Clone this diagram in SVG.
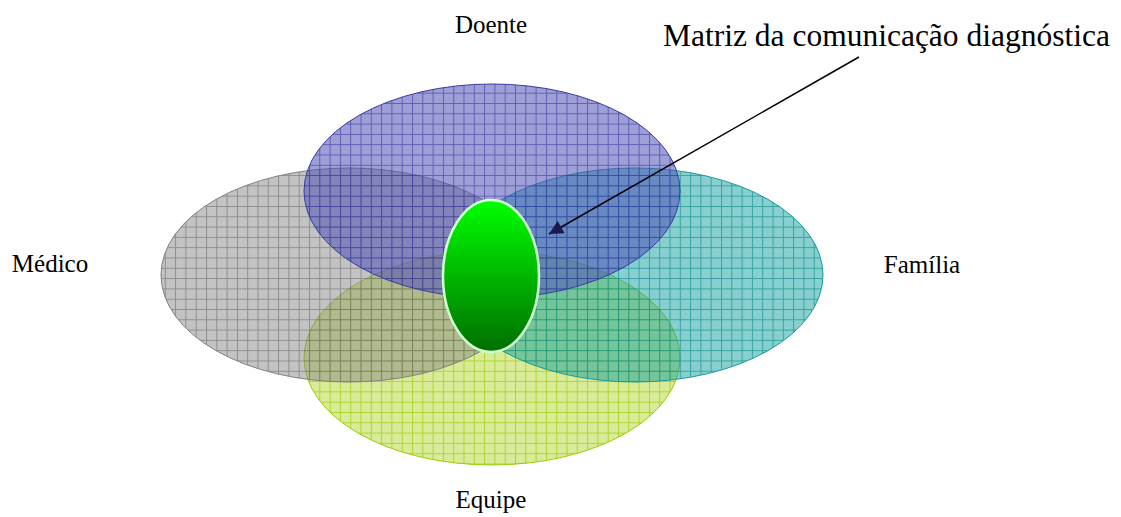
<svg xmlns="http://www.w3.org/2000/svg" width="1121" height="517" viewBox="0 0 1121 517">
<style>
  .lbl { font-family: "Liberation Serif", Tinos, "DejaVu Serif", serif; font-size: 25px; fill: #000; text-anchor: middle; }
  .title { font-family: "Liberation Serif", Tinos, "DejaVu Serif", serif; font-size: 31.5px; fill: #000; }
</style>
<defs>
  <pattern id="pBlue" width="10.3" height="10.3" patternUnits="userSpaceOnUse">
    <rect width="10.3" height="10.3" fill="#5050b8" fill-opacity="0.55"/>
    <path d="M0 0.5H10.3M0.5 0V10.3" stroke="#2a2a99" stroke-opacity="0.55" stroke-width="1" fill="none"/>
  </pattern>
  <pattern id="pGray" width="10.3" height="10.3" patternUnits="userSpaceOnUse">
    <rect width="10.3" height="10.3" fill="#888888" fill-opacity="0.5"/>
    <path d="M0 0.5H10.3M0.5 0V10.3" stroke="#5a5a5a" stroke-opacity="0.5" stroke-width="1" fill="none"/>
  </pattern>
  <pattern id="pTeal" width="10.3" height="10.3" patternUnits="userSpaceOnUse">
    <rect width="10.3" height="10.3" fill="#11a0a0" fill-opacity="0.5"/>
    <path d="M0 0.5H10.3M0.5 0V10.3" stroke="#008585" stroke-opacity="0.6" stroke-width="1" fill="none"/>
  </pattern>
  <pattern id="pYellow" width="10.3" height="10.3" patternUnits="userSpaceOnUse">
    <rect width="10.3" height="10.3" fill="#aad41a" fill-opacity="0.45"/>
    <path d="M0 0.5H10.3M0.5 0V10.3" stroke="#99cc00" stroke-opacity="0.7" stroke-width="1" fill="none"/>
  </pattern>
  <linearGradient id="gGreen" x1="0" y1="0" x2="0" y2="1">
    <stop offset="0" stop-color="#00ff00"/>
    <stop offset="1" stop-color="#006e00"/>
  </linearGradient>
  <marker id="arrow" viewBox="0 0 10 10" refX="10" refY="5" markerWidth="16" markerHeight="14" markerUnits="userSpaceOnUse" orient="auto">
    <path d="M0 0L10 5L0 10Z" fill="#1a1a50"/>
  </marker>
</defs>

<g id="equipe">
  <ellipse cx="492" cy="358" rx="188" ry="107" fill="url(#pYellow)" stroke="#99cc00" stroke-width="1"/>
  <text class="lbl" x="491" y="508">Equipe</text>
</g>
<g id="medico">
  <ellipse cx="349" cy="275" rx="188" ry="107" fill="url(#pGray)" stroke="#808080" stroke-width="1"/>
  <text class="lbl" x="50" y="272">Médico</text>
</g>
<g id="familia">
  <ellipse cx="635" cy="275" rx="188" ry="107" fill="url(#pTeal)" stroke="#1a9999" stroke-width="1"/>
  <text class="lbl" x="922" y="273">Família</text>
</g>
<g id="doente">
  <ellipse cx="492" cy="191" rx="188" ry="107" fill="url(#pBlue)" stroke="#3a3aa0" stroke-width="1"/>
  <text class="lbl" x="491" y="33">Doente</text>
</g>
<g id="matriz">
  <ellipse cx="491" cy="276" rx="48" ry="76" fill="url(#gGreen)" stroke="#ccffcc" stroke-width="2.5"/>
  <text class="title" x="663" y="46">Matriz da comunicação diagnóstica</text>
</g>

<g id="connectors">
  <line x1="859" y1="57" x2="549" y2="234" stroke="#000" stroke-width="1.5" marker-end="url(#arrow)"/>
</g>
</svg>
